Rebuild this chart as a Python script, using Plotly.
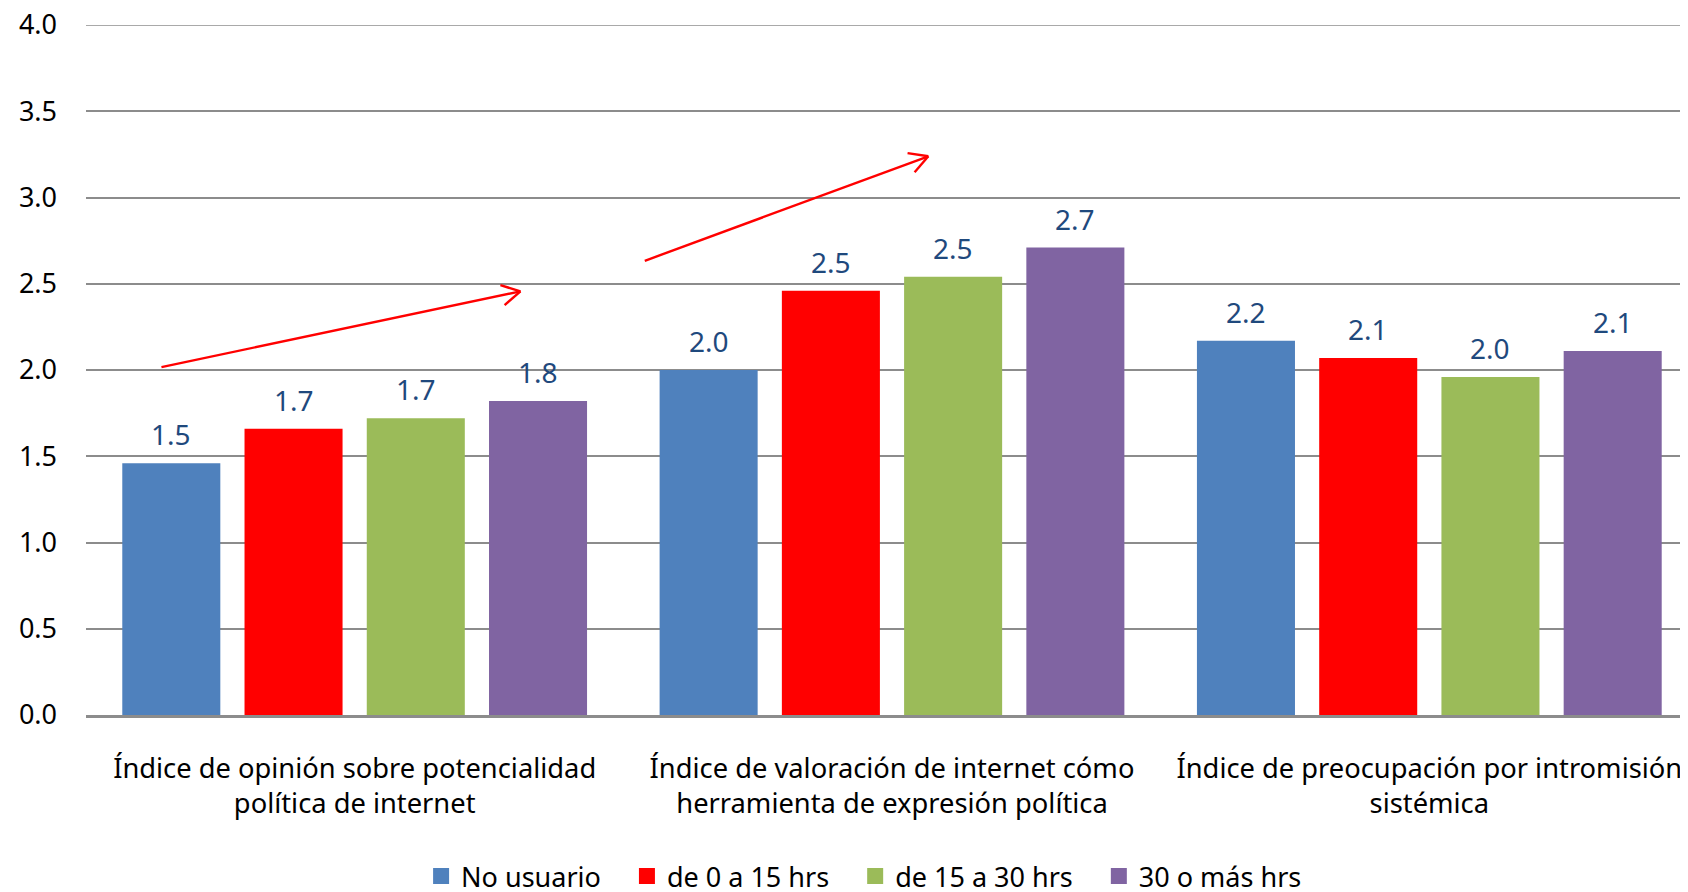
import math

import plotly.graph_objects as go

categories = [
    "Índice de opinión sobre potencialidad<br>política de internet",
    "Índice de valoración de internet cómo<br>herramienta de expresión política",
    "Índice de preocupación por intromisión<br>sistémica",
]
series_names = ["No usuario", "de 0 a 15 hrs", "de 15 a 30 hrs", "30 o más hrs"]
no_usuario = [1.46, 2.00, 2.17]
de_0_a_15 = [1.66, 2.46, 2.07]
de_15_a_30 = [1.72, 2.54, 1.96]
mas_de_30 = [1.82, 2.71, 2.11]
y_ticks = [0.0, 0.5, 1.0, 1.5, 2.0, 2.5, 3.0, 3.5, 4.0]

colors = ["#4F81BD", "#FF0000", "#9BBB59", "#8064A2"]
label_color = "#1F497D"
font_family = "Noto Sans, Open Sans, sans-serif"

# page body adds an 8px margin, so the figure is 8px smaller than the window
W, H = 1680, 884
M_L, M_R, M_T, M_B = 78, 0, 17, 177
PLOT_W = W - M_L - M_R
PLOT_H = H - M_T - M_B
Y_MAX = 4.0
BARGAP = 0.09
BARGROUPGAP = 0.198
X_RANGE = [-0.5, 2.4814]

fig = go.Figure()
all_values = [no_usuario, de_0_a_15, de_15_a_30, mas_de_30]
for k, (name, vals, col) in enumerate(zip(series_names, all_values, colors)):
    fig.add_trace(
        go.Bar(
            name=name,
            x=categories,
            y=vals,
            marker=dict(color=col, line=dict(width=0)),
            hoverinfo="name+y",
            showlegend=False,
        )
    )
    # legend-only entry with a bigger square swatch, padded to space the items out
    pad = "\u00a0" * 3 if k < len(series_names) - 1 else ""
    fig.add_trace(
        go.Scatter(
            name=name + pad,
            x=[None],
            y=[None],
            mode="markers",
            marker=dict(symbol="square", size=17, color=col),
        )
    )

# value labels above each bar
slot = (1 - BARGAP) / len(all_values)
annotations = []
for j, vals in enumerate(all_values):
    for i, v in enumerate(vals):
        annotations.append(
            dict(
                x=i + (j - 1.5) * slot,
                y=v,
                xref="x",
                yref="y",
                text=f"{v:.1f}",
                showarrow=False,
                yanchor="bottom",
                yshift=8,
                font=dict(family=font_family, size=28, color=label_color),
            )
        )


# red trend arrows: (x in paper, y in data) from tail to head
arrows = [((0.0471, 2.017), (0.2712, 2.456)), ((0.3488, 2.633), (0.5258, 3.239))]


def to_px(p):
    return M_L + p[0] * PLOT_W, M_T + (1 - p[1] / Y_MAX) * PLOT_H


def to_paper(px, py):
    return (px - M_L) / PLOT_W, 1 - (py - M_T) / PLOT_H


shapes = []
arrow_line = dict(color="#FF0000", width=2.4)
for tail, head in arrows:
    tx, ty = to_px(tail)
    hx, hy = to_px(head)
    x0, y0 = to_paper(tx, ty)
    x1, y1 = to_paper(hx, hy)
    shapes.append(dict(type="line", xref="paper", yref="paper",
                       x0=x0, y0=y0, x1=x1, y1=y1, line=arrow_line))
    ang = math.atan2(ty - hy, tx - hx)
    for d in (-1, 1):
        a = ang + d * math.radians(29)
        ex, ey = hx + 21 * math.cos(a), hy + 21 * math.sin(a)
        px0, py0 = to_paper(ex, ey)
        shapes.append(dict(type="line", xref="paper", yref="paper",
                           x0=px0, y0=py0, x1=x1, y1=y1, line=arrow_line))

# top gridline at 4.0 (plotly drops the one on the plot edge)
shapes.append(dict(type="line", xref="paper", yref="y", x0=0, x1=1, y0=Y_MAX, y1=Y_MAX,
                   line=dict(color="#8C8C8C", width=1.5), layer="below"))

fig.update_layout(
    width=W,
    height=H,
    margin=dict(l=M_L, r=M_R, t=M_T, b=M_B, autoexpand=False),
    paper_bgcolor="white",
    plot_bgcolor="white",
    barmode="group",
    bargap=BARGAP,
    bargroupgap=BARGROUPGAP,
    font=dict(family=font_family, size=27, color="black"),
    showlegend=True,
    legend=dict(
        orientation="h",
        x=0.4857,
        xanchor="center",
        y=-0.234,
        yanchor="middle",
        font=dict(family=font_family, size=27, color="black"),
        traceorder="normal",
        itemwidth=30,
    ),
    annotations=annotations,
    shapes=shapes,
)

fig.update_yaxes(
    range=[0, Y_MAX],
    tickvals=y_ticks,
    ticktext=[f"{t:.1f}" for t in y_ticks],
    showgrid=True,
    gridcolor="#8C8C8C",
    gridwidth=1.5,
    zeroline=False,
    showline=False,
    ticks="",
    ticklabelstandoff=28,
    ticklabeloverflow="allow",
    tickfont=dict(family=font_family, size=27, color="black"),
)
fig.update_xaxes(
    range=X_RANGE,
    showline=True,
    linecolor="#8C8C8C",
    linewidth=2.5,
    ticks="",
    ticklabelstandoff=27,
    ticklabeloverflow="allow",
    tickfont=dict(family=font_family, size=27.3, color="black"),
)

fig.write_html("out.html")
